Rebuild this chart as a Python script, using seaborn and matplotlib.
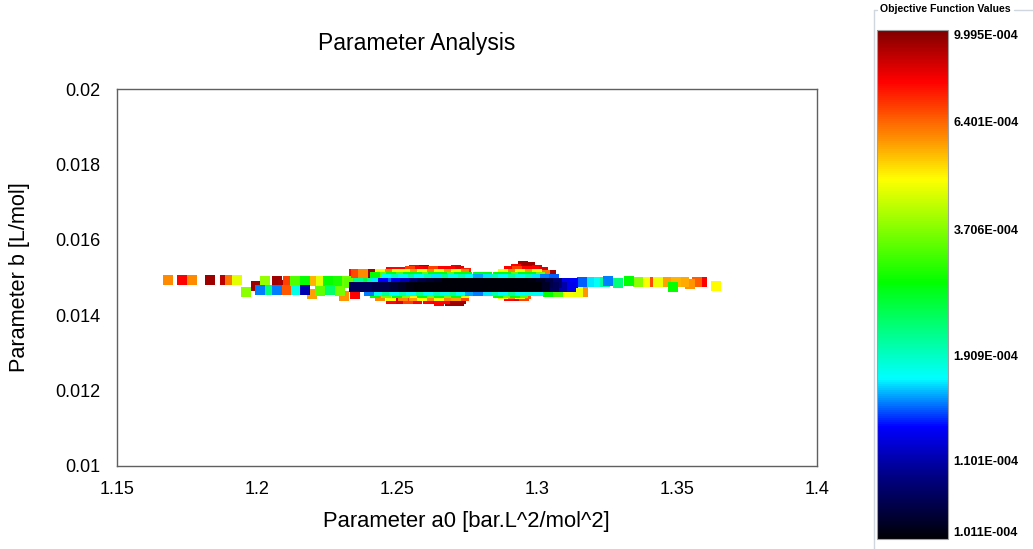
import numpy as np
import pandas as pd
import matplotlib
matplotlib.use("Agg")
import matplotlib.pyplot as plt
import seaborn as sns
from matplotlib.colors import LinearSegmentedColormap, FuncNorm
from matplotlib.lines import Line2D
import matplotlib.cm as cm

# ---------------- data: (a0, b, objective function value x 1e-4) ----------------
left_tail = [
    (1.1682, 0.01493, 6.0), (1.1732, 0.01493, 8.0), (1.1768, 0.01493, 6.0),
    (1.1832, 0.01493, 9.5), (1.1886, 0.01493, 9.0), (1.1905, 0.01493, 6.2),
    (1.1929, 0.01493, 4.7),
]
left_mixed = [
    (1.1960, 0.01462, 3.8), (1.1998, 0.01478, 9.5), (1.2028, 0.01491, 3.9),
    (1.2012, 0.01466, 1.55), (1.2040, 0.01466, 2.3), (1.2070, 0.01491, 9.5),
    (1.2070, 0.01466, 1.55), (1.2094, 0.01480, 9.3), (1.2105, 0.01466, 6.6),
    (1.2112, 0.01491, 7.0), (1.2136, 0.01491, 3.4), (1.2140, 0.01466, 1.8),
    (1.2170, 0.01491, 3.0), (1.2170, 0.01466, 1.12), (1.2195, 0.01456, 5.8),
    (1.2208, 0.01491, 5.6), (1.2228, 0.01491, 4.7), (1.2225, 0.01464, 3.5),
    (1.2255, 0.01491, 3.0), (1.2260, 0.01466, 2.4), (1.2285, 0.01491, 3.1),
    (1.2295, 0.01464, 3.6), (1.2310, 0.01452, 5.9), (1.2318, 0.01491, 3.6),
    (1.2345, 0.01508, 7.8),
]
band_upper = [
    (1.2330, 0.01485, 3.5), (1.2360, 0.01485, 2.2), (1.2388, 0.01485, 2.6),
    (1.2410, 0.01485, 2.1), (1.2430, 0.01485, 1.7), (1.2450, 0.01485, 1.36),
    (1.2470, 0.01485, 1.5), (1.2495, 0.01485, 1.3), (1.2530, 0.01485, 1.15),
    (1.2560, 0.01485, 1.07), (1.2590, 0.01485, 1.05), (1.2620, 0.01485, 1.04),
    (1.2650, 0.01485, 1.03), (1.2680, 0.01485, 1.015), (1.2710, 0.01485, 1.015),
    (1.2740, 0.01485, 1.015), (1.2770, 0.01485, 1.015), (1.2800, 0.01485, 1.015),
    (1.2830, 0.01485, 1.015), (1.2860, 0.01485, 1.015), (1.2890, 0.01485, 1.015),
    (1.2920, 0.01485, 1.015), (1.2950, 0.01485, 1.015), (1.2980, 0.01485, 1.02),
    (1.3010, 0.01485, 1.03), (1.3040, 0.01485, 1.05), (1.3070, 0.01485, 1.07),
    (1.3100, 0.01485, 1.3), (1.3130, 0.01485, 1.36), (1.3160, 0.01487, 1.5),
    (1.3185, 0.01488, 1.7),
]
band_lower = [
    (1.2345, 0.01474, 1.06), (1.2370, 0.01474, 1.06), (1.2400, 0.01474, 1.06),
    (1.2430, 0.01474, 1.05), (1.2460, 0.01474, 1.05), (1.2490, 0.01474, 1.04),
    (1.2520, 0.01474, 1.03), (1.2550, 0.01474, 1.02), (1.2580, 0.01474, 1.015),
    (1.2610, 0.01474, 1.015), (1.2640, 0.01474, 1.015), (1.2670, 0.01474, 1.015),
    (1.2700, 0.01474, 1.015), (1.2730, 0.01474, 1.015), (1.2760, 0.01474, 1.015),
    (1.2790, 0.01474, 1.015), (1.2820, 0.01474, 1.015), (1.2850, 0.01474, 1.015),
    (1.2880, 0.01474, 1.015), (1.2910, 0.01474, 1.015), (1.2940, 0.01474, 1.015),
    (1.2970, 0.01474, 1.015), (1.3000, 0.01474, 1.015), (1.3030, 0.01474, 1.03),
    (1.3060, 0.01474, 1.06), (1.3090, 0.01474, 1.1), (1.3120, 0.01474, 1.3),
]
upper_cyan = [
    (1.2460, 0.01495, 1.75), (1.2490, 0.01495, 2.0), (1.2520, 0.01495, 1.8),
    (1.2550, 0.01495, 2.1), (1.2580, 0.01495, 1.75), (1.2610, 0.01495, 2.0),
    (1.2640, 0.01495, 1.7), (1.2670, 0.01495, 2.2), (1.2700, 0.01495, 1.8),
    (1.2730, 0.01495, 2.0), (1.2760, 0.01495, 1.75), (1.2790, 0.01495, 1.6),
    (1.2820, 0.01495, 1.7), (1.2850, 0.01495, 2.0), (1.2880, 0.01495, 1.75),
    (1.2910, 0.01495, 2.1), (1.2940, 0.01495, 1.8), (1.2970, 0.01495, 2.0),
    (1.3000, 0.01495, 1.7), (1.3030, 0.01495, 1.55), (1.3060, 0.01495, 1.5),
]
upper_green = [
    (1.2420, 0.01502, 3.0), (1.2450, 0.01502, 3.5), (1.2480, 0.01502, 2.9),
    (1.2510, 0.01502, 3.4), (1.2540, 0.01502, 3.0), (1.2570, 0.01502, 2.9),
    (1.2600, 0.01502, 3.5), (1.2630, 0.01502, 3.0), (1.2660, 0.01502, 2.9),
    (1.2690, 0.01502, 3.5), (1.2720, 0.01502, 3.0), (1.2750, 0.01502, 2.9),
    (1.2790, 0.01500, 2.8), (1.2820, 0.01500, 2.9), (1.2860, 0.01502, 3.0),
    (1.2890, 0.01502, 2.9), (1.2920, 0.01502, 3.5), (1.2950, 0.01502, 3.0),
    (1.2980, 0.01502, 2.9), (1.3010, 0.01502, 3.6),
]
upper_yellow = [
    (1.2380, 0.01509, 6.0), (1.2440, 0.01509, 4.9), (1.2470, 0.01509, 6.0),
    (1.2500, 0.01509, 4.9), (1.2530, 0.01509, 4.8), (1.2560, 0.01509, 5.8),
    (1.2590, 0.01509, 4.9), (1.2620, 0.01509, 6.0), (1.2650, 0.01509, 4.9),
    (1.2680, 0.01509, 5.8), (1.2710, 0.01509, 4.9), (1.2740, 0.01509, 6.0),
    (1.2880, 0.01509, 4.9), (1.2910, 0.01509, 6.0), (1.2940, 0.01509, 4.9),
    (1.2970, 0.01509, 5.8), (1.3000, 0.01509, 4.9), (1.3030, 0.01506, 6.2),
]
upper_red = [
    (1.2354, 0.01510, 6.8), (1.2414, 0.01510, 9.5), (1.2480, 0.01515, 8.0),
    (1.2510, 0.01515, 8.0), (1.2545, 0.01516, 7.0), (1.2575, 0.01516, 8.0),
    (1.2600, 0.01516, 8.2), (1.2630, 0.01516, 7.0), (1.2660, 0.01516, 8.0),
    (1.2690, 0.01516, 8.0), (1.2720, 0.01516, 8.5), (1.2745, 0.01512, 7.5),
    (1.2900, 0.01516, 8.0), (1.2930, 0.01516, 7.0), (1.2960, 0.01516, 8.0),
    (1.2990, 0.01516, 8.0), (1.3020, 0.01514, 8.5), (1.3050, 0.01506, 9.5),
    (1.2560, 0.01520, 8.0), (1.2595, 0.01521, 9.3), (1.2710, 0.01521, 8.5),
    (1.2925, 0.01523, 8.0), (1.2950, 0.01530, 9.5), (1.2975, 0.01527, 9.5),
    (1.3000, 0.01521, 8.5),
]
lower_cyan = [
    (1.2400, 0.01465, 1.55), (1.2430, 0.01465, 1.75), (1.2460, 0.01465, 2.1),
    (1.2490, 0.01465, 1.75), (1.2520, 0.01465, 2.0), (1.2550, 0.01465, 1.75),
    (1.2580, 0.01465, 2.1), (1.2610, 0.01465, 1.75), (1.2640, 0.01465, 2.0),
    (1.2670, 0.01465, 1.8), (1.2700, 0.01465, 2.1), (1.2730, 0.01465, 1.75),
    (1.2760, 0.01465, 1.6), (1.2790, 0.01465, 1.55), (1.2820, 0.01465, 1.7),
    (1.2850, 0.01465, 2.0), (1.2880, 0.01465, 1.75), (1.2910, 0.01465, 2.1),
    (1.2940, 0.01465, 1.75), (1.2970, 0.01465, 1.8), (1.3005, 0.01463, 1.75),
]
lower_green = [
    (1.2420, 0.01458, 3.0), (1.2460, 0.01458, 3.6), (1.2500, 0.01458, 2.9),
    (1.2530, 0.01458, 3.6), (1.2560, 0.01458, 4.8), (1.2590, 0.01458, 3.0),
    (1.2620, 0.01458, 3.6), (1.2650, 0.01458, 2.9), (1.2680, 0.01458, 3.6),
    (1.2710, 0.01458, 3.0), (1.2740, 0.01458, 4.7), (1.2860, 0.01460, 3.0),
    (1.2890, 0.01460, 3.6), (1.2920, 0.01460, 3.0), (1.2950, 0.01460, 3.5),
    (1.3040, 0.01462, 3.0), (1.3075, 0.01462, 3.4), (1.3110, 0.01462, 4.9),
    (1.3145, 0.01462, 4.8), (1.3165, 0.01462, 5.9),
]
lower_orange = [
    (1.2440, 0.01451, 6.0), (1.2480, 0.01451, 4.9), (1.2520, 0.01451, 6.0),
    (1.2560, 0.01451, 5.8), (1.2590, 0.01451, 4.9), (1.2620, 0.01451, 6.0),
    (1.2650, 0.01451, 4.9), (1.2680, 0.01451, 6.0), (1.2710, 0.01451, 5.8),
    (1.2740, 0.01451, 6.8), (1.2880, 0.01455, 4.9), (1.2910, 0.01455, 6.0),
    (1.2940, 0.01455, 4.9), (1.2960, 0.01455, 6.5),
]
lower_red = [
    (1.2350, 0.01455, 8.0), (1.2480, 0.01444, 8.0), (1.2510, 0.01444, 8.5),
    (1.2540, 0.01444, 7.0), (1.2570, 0.01444, 8.0), (1.2610, 0.01444, 8.0),
    (1.2640, 0.01444, 8.5), (1.2670, 0.01444, 8.0), (1.2700, 0.01444, 9.5),
    (1.2730, 0.01444, 9.5), (1.2900, 0.01450, 8.0), (1.2930, 0.01450, 8.5),
    (1.2955, 0.01450, 7.0), (1.2650, 0.01437, 8.0), (1.2690, 0.01437, 9.5),
    (1.2720, 0.01437, 9.5),
]
right_tail = [
    (1.3207, 0.01488, 1.75), (1.3243, 0.01488, 2.1), (1.3252, 0.01492, 1.55),
    (1.3290, 0.01486, 2.3), (1.3330, 0.01490, 2.95), (1.3360, 0.01488, 3.8),
    (1.3386, 0.01488, 4.9), (1.3404, 0.01488, 6.8), (1.3432, 0.01488, 4.8),
    (1.3460, 0.01488, 5.8), (1.3486, 0.01475, 3.0), (1.3495, 0.01488, 5.6),
    (1.3525, 0.01488, 5.7), (1.3545, 0.01482, 5.9), (1.3570, 0.01488, 6.5),
    (1.3590, 0.01488, 8.0), (1.3639, 0.01478, 5.0),
]

x_ticks = [1.15, 1.2, 1.25, 1.3, 1.35, 1.4]
x_tick_labels = ["1.15", "1.2", "1.25", "1.3", "1.35", "1.4"]
y_ticks = [0.01, 0.012, 0.014, 0.016, 0.018, 0.02]
y_tick_labels = ["0.01", "0.012", "0.014", "0.016", "0.018", "0.02"]
cbar_values = [1.011e-4, 1.101e-4, 1.909e-4, 3.706e-4, 6.401e-4, 9.995e-4]
cbar_labels = ["1.011E-004", "1.101E-004", "1.909E-004", "3.706E-004", "6.401E-004", "9.995E-004"]

# ---------------- styling ----------------
cbar_fracs = [0.0, 0.155, 0.361, 0.609, 0.821, 1.0]
cmap = LinearSegmentedColormap.from_list("objfun", [
    (0.0, (0.0, 0.0, 0.02)), (0.13, (0.0, 0.0, 0.55)), (0.22, (0.0, 0.0, 1.0)),
    (0.315, (0.0, 1.0, 1.0)), (0.505, (0.0, 1.0, 0.0)), (0.708, (1.0, 1.0, 0.0)),
    (0.79, (1.0, 0.55, 0.0)), (0.9, (1.0, 0.0, 0.0)), (1.0, (0.5, 0.0, 0.0))])


def _fwd(v):
    return np.interp(v, cbar_values, cbar_fracs)


def _inv(f):
    return np.interp(f, cbar_fracs, cbar_values)


norm = FuncNorm((_fwd, _inv), vmin=cbar_values[0], vmax=cbar_values[-1])

rows = (left_tail + left_mixed + band_upper + band_lower + upper_cyan + upper_green
        + upper_yellow + upper_red + lower_cyan + lower_green + lower_orange
        + lower_red + right_tail)
df = pd.DataFrame(rows, columns=["a0", "b", "obj_e4"])
df["obj"] = df["obj_e4"] * 1e-4
df = df.sort_values("obj", ascending=False, kind="stable").reset_index(drop=True)

sns.set_style("white")
plt.rcParams["font.family"] = ["Liberation Sans", "DejaVu Sans"]
plt.rcParams["text.color"] = "black"
plt.rcParams["axes.labelcolor"] = "black"

W, H = 1033, 549
fig = plt.figure(figsize=(W / 100, H / 100), dpi=100)
fig.patch.set_facecolor("white")
ax = fig.add_axes([117 / W, 83 / H, 700 / W, 377 / H])

sns.scatterplot(data=df, x="a0", y="b", hue="obj", palette=cmap, hue_norm=norm,
                marker="s", s=52, linewidth=0, legend=False, ax=ax)

ax.set_xlim(1.15, 1.4)
ax.set_ylim(0.01, 0.02)
ax.set_xticks(x_ticks)
ax.set_xticklabels(x_tick_labels)
ax.set_yticks(y_ticks)
ax.set_yticklabels(y_tick_labels)
ax.set_xlabel("")
ax.set_ylabel("")
ax.tick_params(axis="x", direction="out", length=6, width=1, color="#808080",
               pad=5, labelsize=13, labelcolor="black")
ax.tick_params(axis="y", direction="out", length=9, width=1, color="#808080",
               pad=3, labelsize=13, labelcolor="black")
for sp in ax.spines.values():
    sp.set_color("#606060")
    sp.set_linewidth(1)

fig.text(417 / W, 1 - 44 / H, "Parameter Analysis", ha="center", va="center",
         fontsize=16.5, color="black")
fig.text(466 / W, 1 - 522 / H, "Parameter a0 [bar.L^2/mol^2]", ha="center", va="center",
         fontsize=15.8, color="black")
fig.text(20 / W, 1 - 277 / H, "Parameter b [L/mol]", ha="center", va="center",
         rotation=90, fontsize=15.6, color="black")

# colorbar
cax = fig.add_axes([877 / W, 10 / H, 71 / W, 509 / H])
sm = cm.ScalarMappable(norm=norm, cmap=cmap)
cbar = fig.colorbar(sm, cax=cax)
cbar.set_ticks(cbar_values, labels=cbar_labels)
cax.tick_params(length=0, pad=4, labelsize=9, labelcolor="black")
labs = cax.get_yticklabels()
for lab in labs:
    lab.set_fontweight("bold")
labs[0].set_verticalalignment("bottom")
labs[-1].set_verticalalignment("top")
cbar.outline.set_edgecolor("#a0a0a0")
cbar.outline.set_linewidth(0.8)

# group box around the colour legend
gcol = "#cfd6dd"
fig.add_artist(Line2D([873.5 / W, 873.5 / W], [1 - 10 / H, 0], transform=fig.transFigure,
                      color=gcol, lw=1))
fig.add_artist(Line2D([873.5 / W, 877 / W], [1 - 10 / H, 1 - 10 / H], transform=fig.transFigure,
                      color=gcol, lw=1))
fig.add_artist(Line2D([1014 / W, 1.0], [1 - 10 / H, 1 - 10 / H], transform=fig.transFigure,
                      color=gcol, lw=1))
fig.text(880 / W, 1 - 9 / H, "Objective Function Values", ha="left", va="center",
         fontsize=7.6, fontweight="bold", color="black")

fig.savefig("out.png", dpi=100, facecolor="white")
